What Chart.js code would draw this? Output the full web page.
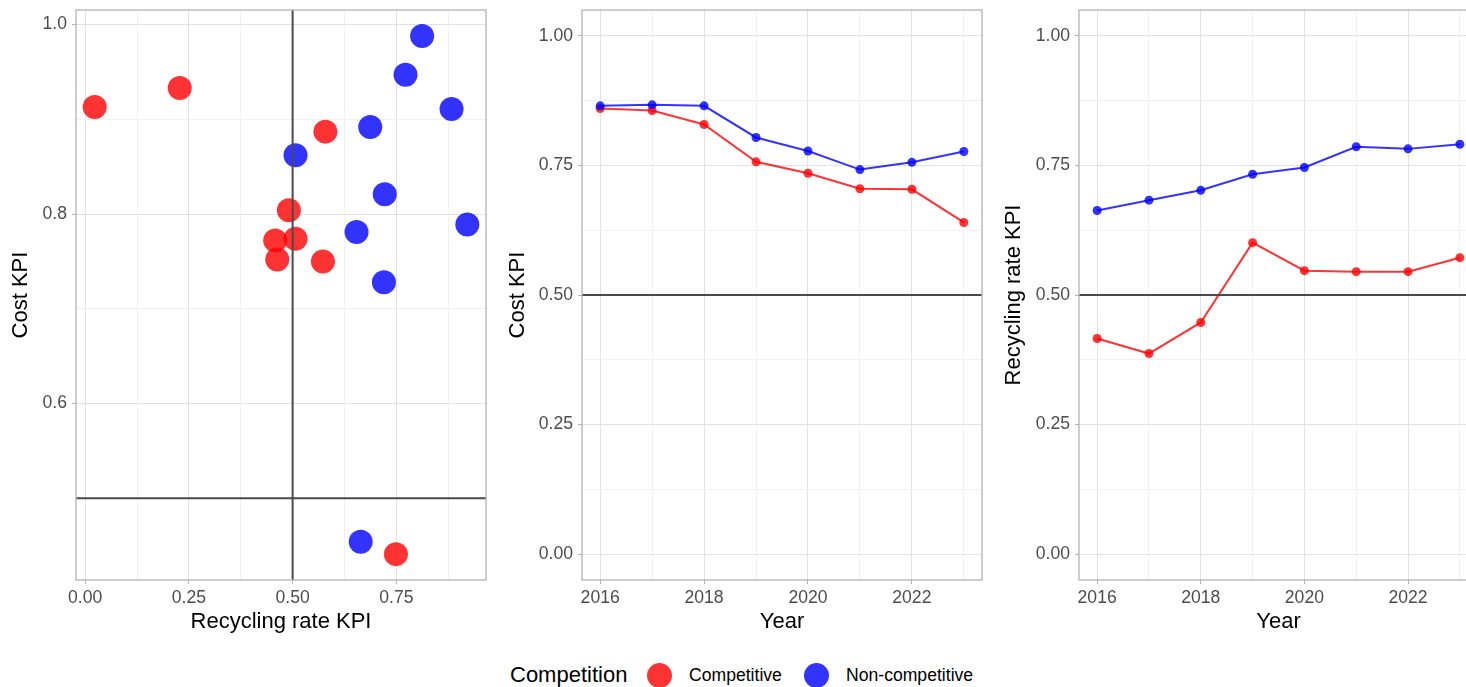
<!DOCTYPE html>
<html>
<head>
<meta charset="utf-8">
<script src="https://cdn.jsdelivr.net/npm/chart.js@4.4.1/dist/chart.umd.min.js"></script>
<style>
  html, body { margin: 0; padding: 0; background: #fff; overflow: hidden; }
  body { width: 1466px; height: 687px; position: relative; font-family: "Liberation Sans", Arial, sans-serif; }
  .panel { position: absolute; top: 0; width: 490px; height: 640px; }
  .legend-item { position: absolute; white-space: nowrap; }
  .legend-dot { position: absolute; width: 25px; height: 25px; border-radius: 50%; }
</style>
</head>
<body>
<div class="panel" style="left:0px"><canvas id="scatterChart"></canvas></div>
<div class="panel" style="left:495px"><canvas id="costChart"></canvas></div>
<div class="panel" style="left:990px"><canvas id="recyclingChart"></canvas></div>
<div id="legend"></div>

<script>
/************************ DATA ************************** */
const seriesNames = ["Competitive", "Non-competitive"];
const legendTitle = "Competition";

// scatter : recycling rate KPI (x) vs cost KPI (y)
const scatterRecyclingCompetitive = [0.023, 0.228, 0.579, 0.491, 0.458, 0.507, 0.463, 0.573, 0.749];
const scatterCostCompetitive = [0.913, 0.933, 0.887, 0.804, 0.772, 0.774, 0.752, 0.750, 0.441];
const scatterRecyclingNonCompetitive = [0.812, 0.772, 0.883, 0.687, 0.507, 0.722, 0.921, 0.654, 0.720, 0.664];
const scatterCostNonCompetitive = [0.988, 0.947, 0.911, 0.892, 0.862, 0.821, 0.789, 0.781, 0.728, 0.454];

// yearly evolution
const years = [2016, 2017, 2018, 2019, 2020, 2021, 2022, 2023];
const costCompetitive = [0.860, 0.856, 0.829, 0.757, 0.735, 0.705, 0.704, 0.640];
const costNonCompetitive = [0.865, 0.867, 0.865, 0.804, 0.778, 0.742, 0.756, 0.777];
const recyclingCompetitive = [0.416, 0.387, 0.447, 0.601, 0.547, 0.545, 0.545, 0.572];
const recyclingNonCompetitive = [0.663, 0.683, 0.702, 0.733, 0.746, 0.786, 0.782, 0.791];

// ticks
const scatterXTicks = [0, 0.125, 0.25, 0.375, 0.5, 0.625, 0.75, 0.875];
const scatterXLabels = [0, 0.25, 0.5, 0.75];
const scatterYTicks = [0.5, 0.6, 0.7, 0.8, 0.9, 1.0];
const scatterYLabels = [0.6, 0.8, 1.0];
const yearTicks = [2016, 2017, 2018, 2019, 2020, 2021, 2022, 2023];
const yearLabels = [2016, 2018, 2020, 2022];
const kpiTicks = [0, 0.125, 0.25, 0.375, 0.5, 0.625, 0.75, 0.875, 1.0];
const kpiLabels = [0, 0.25, 0.5, 0.75, 1.0];

const threshold = 0.5;

/************************ STYLE ************************** */
const RED = "rgba(255,0,0,0.8)";
const BLUE = "rgba(0,0,255,0.8)";
const REF = "#4a4a4a";
const MAJOR = "#e2e2e2";
const MINOR = "#f1f1f1";
const FONT = "'Liberation Sans', Arial, sans-serif";

/************************ HELPERS ************************** */
const isIn = (list, v) => list.some((l) => Math.abs(l - v) < 1e-9);

function toPoints(xs, ys) {
  return xs.map((x, i) => ({ x: x, y: ys[i] }));
}

// panel border (theme_light)
const borderPlugin = {
  id: "panelBorder",
  afterDatasetsDraw(chart) {
    const { ctx, chartArea: a } = chart;
    ctx.save();
    ctx.strokeStyle = "#b3b3b3";
    ctx.lineWidth = 1.3;
    ctx.strokeRect(a.left, a.top, a.right - a.left, a.bottom - a.top);
    ctx.restore();
  },
};

function makeAxis(opts) {
  return {
    type: "linear",
    min: opts.min,
    max: opts.max,
    afterBuildTicks: (axis) => {
      axis.ticks = opts.ticks.map((v) => ({ value: v }));
    },
    afterFit: (scale) => {
      if (opts.width) scale.width = opts.width;
      if (opts.height) scale.height = opts.height;
      // no label overhang padding, the layout padding handles the edges
      scale.paddingTop = 0;
      scale.paddingBottom = 0;
      scale.paddingLeft = 0;
      scale.paddingRight = 0;
    },
    border: { display: false },
    grid: {
      color: (c) => (c.tick && isIn(opts.labels, c.tick.value) ? MAJOR : MINOR),
      lineWidth: 1,
      tickLength: 4,
      tickWidth: 1,
      tickColor: (c) => (c.tick && isIn(opts.labels, c.tick.value) ? "#b3b3b3" : "rgba(0,0,0,0)"),
    },
    ticks: {
      autoSkip: false,
      maxRotation: 0,
      padding: opts.tickPad,
      color: "#4d4d4d",
      font: { family: FONT, size: 17.6 },
      callback: (v) => (isIn(opts.labels, v) ? opts.format(v) : ""),
    },
    title: {
      display: true,
      text: opts.title,
      color: "#000",
      font: { family: FONT, size: 22 },
      padding: opts.titlePad,
    },
  };
}

function refLine(points) {
  return {
    data: points,
    borderColor: REF,
    borderWidth: 2,
    pointRadius: 0,
    showLine: true,
    order: 0,
  };
}

function baseOptions(padRight, xAxis, yAxis) {
  return {
    responsive: false,
    animation: false,
    events: [],
    layout: { autoPadding: false, padding: { top: 10, right: padRight, bottom: 0, left: 0 } },
    plugins: { legend: { display: false }, tooltip: { enabled: false } },
    scales: { x: xAxis, y: yAxis },
  };
}

function sizeCanvas(id) {
  const c = document.getElementById(id);
  c.width = 490;
  c.height = 640;
  c.style.width = "490px";
  c.style.height = "640px";
  return c;
}

/************************ SCATTER ************************** */
const sxMin = -0.022, sxMax = 0.966;
const syMin = 0.4137, syMax = 1.0154;

new Chart(sizeCanvas("scatterChart"), {
  type: "scatter",
  data: {
    datasets: [
      refLine([{ x: threshold, y: syMin }, { x: threshold, y: syMax }]),
      refLine([{ x: sxMin, y: threshold }, { x: sxMax, y: threshold }]),
      {
        data: toPoints(scatterRecyclingNonCompetitive, scatterCostNonCompetitive),
        backgroundColor: BLUE,
        borderWidth: 0,
        pointRadius: 12,
        order: 2,
      },
      {
        data: toPoints(scatterRecyclingCompetitive, scatterCostCompetitive),
        backgroundColor: RED,
        borderWidth: 0,
        pointRadius: 12,
        order: 3,
      },
    ],
  },
  options: baseOptions(
    4,
    makeAxis({
      min: sxMin, max: sxMax, ticks: scatterXTicks, labels: scatterXLabels,
      format: (v) => v.toFixed(2), title: "Recycling rate KPI",
      height: 60, tickPad: 4, titlePad: { top: 2, bottom: 5 },
    }),
    makeAxis({
      min: syMin, max: syMax, ticks: scatterYTicks, labels: scatterYLabels,
      format: (v) => v.toFixed(1), title: "Cost KPI",
      width: 76, tickPad: 5, titlePad: { top: 8, bottom: 2 },
    })
  ),
  plugins: [borderPlugin],
});

/************************ LINE CHARTS ************************** */
const yrMin = 2015.65, yrMax = 2023.35;
const kMin = -0.05, kMax = 1.05;

function lineDataset(values, color, order) {
  return {
    data: toPoints(years, values),
    borderColor: color,
    backgroundColor: color,
    borderWidth: 2,
    pointRadius: 4.5,
    pointBorderWidth: 0,
    showLine: true,
    order: order,
  };
}

function lineChart(id, padRight, yWidth, yTitlePad, yTitle, comp, nonComp) {
  return new Chart(sizeCanvas(id), {
    type: "scatter",
    data: {
      datasets: [
        refLine([{ x: yrMin, y: threshold }, { x: yrMax, y: threshold }]),
        lineDataset(nonComp, BLUE, 2),
        lineDataset(comp, RED, 3),
      ],
    },
    options: baseOptions(
      padRight,
      makeAxis({
        min: yrMin, max: yrMax, ticks: yearTicks, labels: yearLabels,
        format: (v) => String(v), title: "Year",
        height: 60, tickPad: 4, titlePad: { top: 2, bottom: 5 },
      }),
      makeAxis({
        min: kMin, max: kMax, ticks: kpiTicks, labels: kpiLabels,
        format: (v) => v.toFixed(2), title: yTitle,
        width: yWidth, tickPad: 5, titlePad: { top: yTitlePad, bottom: 2 },
      })
    ),
    plugins: [borderPlugin],
  });
}

lineChart("costChart", 3, 87, 10, "Cost KPI", costCompetitive, costNonCompetitive);
lineChart("recyclingChart", 2, 89, 11, "Recycling rate KPI", recyclingCompetitive, recyclingNonCompetitive);

/************************ LEGEND ************************** */
const legend = document.getElementById("legend");
const legendColors = [RED, BLUE];
const dotCenters = [659, 816];
const labelLefts = [689, 846];

let html = `<span class="legend-item" style="left:510px;top:662px;font-size:22px;color:#000">${legendTitle}</span>`;
for (let i = 0; i < seriesNames.length; i++) {
  html += `<span class="legend-dot" style="left:${dotCenters[i] - 12.5}px;top:662.5px;background:${legendColors[i]}"></span>`;
  html += `<span class="legend-item" style="left:${labelLefts[i]}px;top:665px;font-size:17.6px;color:#000">${seriesNames[i]}</span>`;
}
legend.innerHTML = html;
</script>
</body>
</html>
